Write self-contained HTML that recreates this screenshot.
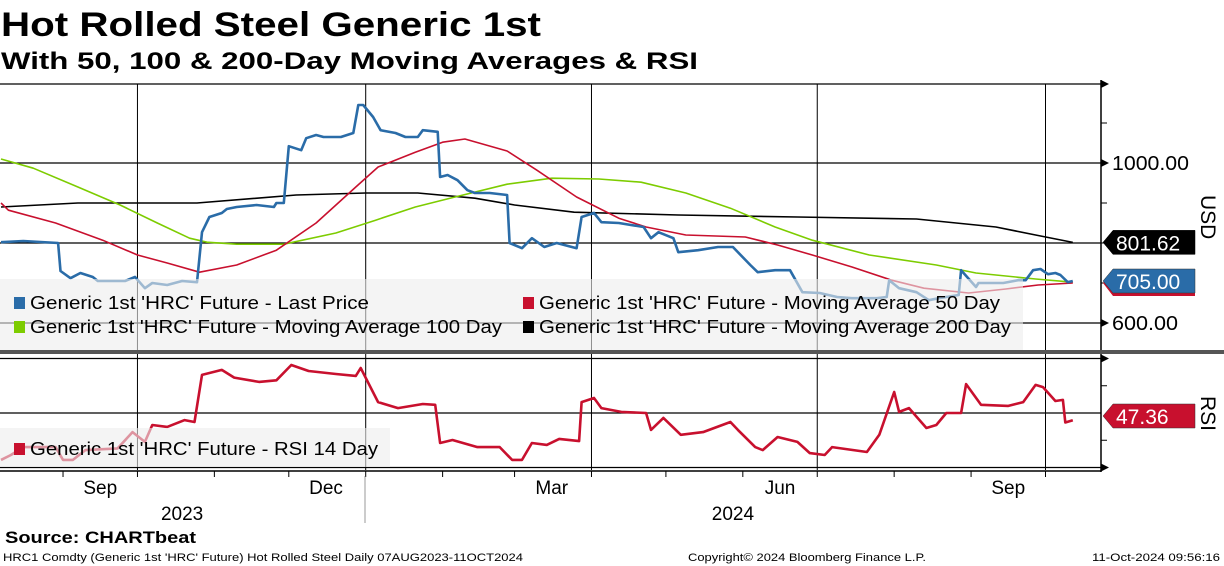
<!DOCTYPE html>
<html><head><meta charset="utf-8">
<style>
body{margin:0;background:#fff;}
svg{display:block;font-family:"Liberation Sans",sans-serif;}
</style></head>
<body>
<svg id="chart" width="1224" height="566" viewBox="0 0 1224 566" xmlns="http://www.w3.org/2000/svg">
<text x="1" y="36" font-size="34" font-weight="bold" textLength="540" lengthAdjust="spacingAndGlyphs">Hot Rolled Steel Generic 1st</text>
<text x="1" y="69" font-size="24.5" font-weight="bold" textLength="697" lengthAdjust="spacingAndGlyphs">With 50, 100 &amp; 200-Day Moving Averages &amp; RSI</text>
<g id="grid"></g>
<g id="series"></g>
<g id="legends"></g>
<g id="axes"></g>
<rect x="0" y="350" width="1224" height="4" fill="#555"/>
<text x="5" y="543" font-size="17" font-weight="bold" textLength="191" lengthAdjust="spacingAndGlyphs">Source: CHARTbeat</text>
<text x="3" y="561" font-size="11" textLength="520" lengthAdjust="spacingAndGlyphs">HRC1 Comdty (Generic 1st 'HRC' Future) Hot Rolled Steel  Daily 07AUG2023-11OCT2024</text>
<text x="688" y="561" font-size="11" textLength="238" lengthAdjust="spacingAndGlyphs">Copyright© 2024 Bloomberg Finance L.P.</text>
<text x="1092" y="561" font-size="11" textLength="128" lengthAdjust="spacingAndGlyphs">11-Oct-2024 09:56:16</text>
</svg>
<script>
// days since 07-Aug-2023
const priceDays=[0,9,23,24,28,32,37,39,50,54,58,61,67,73,79,81,84,89,91,95,103,110,111,114,116,121,123,127,130,137,142,144,146,150,153,159,163,168,170,176,177,180,184,188,191,197,204,205,210,214,219,224,232,234,239,242,249,259,262,265,271,273,281,289,295,302,305,312,318,323,330,337,343,353,357,358,362,369,374,378,386,387,393,394,404,410,413,416,419,422,425,427,430,432];
const priceVals=[802,805,800,730,712,725,715,705,705,715,687,700,695,705,702,827,865,875,885,890,895,890,900,900,1042,1032,1062,1070,1065,1065,1075,1145,1145,1115,1082,1075,1065,1065,1082,1078,965,970,957,932,925,925,920,800,787,812,790,800,787,865,875,852,850,840,812,827,812,777,782,790,790,745,727,732,732,677,675,665,662,662,665,707,687,677,657,662,670,732,690,700,700,707,707,732,735,722,725,720,702,705];
const ma50Days=[0,3,22,41,55,67,80,95,111,127,143,152,167,178,187,204,216,232,249,260,276,300,313,327,343,359,372,390,405,418,432];
const ma50Vals=[900,882,850,807,770,750,727,745,782,850,940,990,1027,1052,1060,1030,982,915,862,840,820,815,795,770,740,707,687,675,685,695,700];
const ma100Days=[0,13,31,48,63,76,83,95,114,135,151,167,183,204,222,241,258,276,294,312,327,350,377,393,417,432];
const ma100Vals=[1010,987,940,895,850,812,802,797,797,825,857,890,915,947,962,960,952,925,887,840,807,770,745,725,710,702];
const ma200Days=[0,31,79,119,147,168,191,207,231,273,321,369,401,417,432];
const ma200Vals=[890,900,900,920,925,925,912,895,877,870,865,860,840,820,801.62];
const rsiDays=[0,4,9,22,25,29,34,47,53,58,61,67,74,78,81,89,94,104,111,117,124,135,143,145,152,160,170,175,177,182,192,201,206,210,214,220,225,233,234,239,242,250,260,262,267,274,283,294,297,304,307,313,321,326,332,335,349,354,360,362,366,373,377,381,387,389,395,406,412,417,420,425,428,429,432];
const rsiVals=[32.8,34.6,37.5,37.5,32.8,32.8,36.4,37,43,39.4,45.6,44.9,47.4,46.7,64,65.8,63,61.4,62,67.6,65.4,64.3,63.6,66.5,54,51.8,53.3,53,39,40.1,37.5,37.5,32.8,32.8,39,38.3,40.5,39.7,54,55.5,51.8,50.4,50,43.8,48.2,42,43,46.7,43.8,37.5,36.4,41.2,39.4,35.3,34.6,37.5,35.7,42,57.7,50.4,51.8,44.5,45.6,50,50,60.6,53,52.6,54,60.3,59.5,54.4,54.8,46.5,47.36];
const priceTicks=[600,1000];
const priceMinor=[700,800,900,1100];
const rsiTicks=[30,50,70];
const monthTickDays=[25,55,86,116,147,178,207,238,268,299,329,360,391,421];
const gridDays=[55,147,238,329,421];
const monthLabels=[{d:40,t:"Sep"},{d:131,t:"Dec"},{d:222,t:"Mar"},{d:314,t:"Jun"},{d:406,t:"Sep"}];
const yearLabels=[{d:73,t:"2023"},{d:295,t:"2024"}];

const NS="http://www.w3.org/2000/svg";
const X=d=>1+d*2.481;
const Y=v=>163+(1000-v)*0.4;
const R=r=>413-(r-50)*2.725;
const AX=1101;
function el(tag,attrs,parent){const e=document.createElementNS(NS,tag);for(const k in attrs)e.setAttribute(k,attrs[k]);parent.appendChild(e);return e;}
const grid=document.getElementById('grid'),series=document.getElementById('series'),legends=document.getElementById('legends'),axes=document.getElementById('axes');

let g=el('line',{x1:0,x2:AX,y1:84,y2:84,stroke:'#000','stroke-width':1.2},grid);


[800].concat(priceTicks).forEach(v=>{const l=el('line',{x1:0,x2:AX,y1:Y(v),y2:Y(v),stroke:'#000','stroke-width':1.2},grid);

});
rsiTicks.forEach(v=>{const l=el('line',{x1:0,x2:AX,y1:R(v),y2:R(v),stroke:'#000','stroke-width':1.2},grid);

});
gridDays.forEach(d=>{const l=el('line',{x1:X(d),x2:X(d),y1:84,y2:470,stroke:'#000','stroke-width':1},grid);

});

function path(days,vals,f){return days.map((d,i)=>(i?'L':'M')+X(d).toFixed(1)+' '+f(vals[i]).toFixed(1)).join(' ');}
const defs=[[ma200Days,ma200Vals,'#000','ma200-line',Y],[ma100Days,ma100Vals,'#7dcc00','ma100-line',Y],[ma50Days,ma50Vals,'#c8102e','ma50-line',Y],[priceDays,priceVals,'#2a6ca8','last-price-line',Y],[rsiDays,rsiVals,'#c8102e','rsi-line',R]];
defs.forEach(s=>{const p=el('path',{d:path(s[0],s[1],s[4]),fill:'none',stroke:s[2],'stroke-width':s[3]==='last-price-line'||s[3]==='rsi-line'?2.6:1.6,'stroke-linejoin':'round'},series);

});

const lb=el('rect',{x:0,y:279,width:1023,height:71,fill:'#ececec','fill-opacity':0.6},legends);


const entries=[[14,303,'#2a6ca8',"Generic 1st 'HRC' Future - Last Price",339],[523,303,'#c8102e',"Generic 1st 'HRC' Future - Moving Average 50 Day",461],[14,327,'#7dcc00',"Generic 1st 'HRC' Future - Moving Average 100 Day",472],[523,327,'#000',"Generic 1st 'HRC' Future - Moving Average 200 Day",472]];
entries.forEach(e=>{const gr=el('g',{},legends);


el('rect',{x:e[0],y:e[1]-6,width:11,height:12,fill:e[2]},gr);
const t=el('text',{x:e[0]+16,y:e[1]+6,'font-size':18.5,textLength:e[4],lengthAdjust:'spacingAndGlyphs'},gr);t.textContent=e[3];});
const rb=el('rect',{x:0,y:428,width:390,height:39,fill:'#ececec','fill-opacity':0.6},legends);


const rg=el('g',{},legends);


el('rect',{x:14,y:443,width:11,height:12,fill:'#c8102e'},rg);
const rt=el('text',{x:30,y:455,'font-size':18.5,textLength:348,lengthAdjust:'spacingAndGlyphs'},rg);rt.textContent="Generic 1st 'HRC' Future - RSI 14 Day";

el('line',{x1:AX,x2:AX,y1:80,y2:472,stroke:'#000','stroke-width':1.5},axes);
el('line',{x1:0,x2:AX,y1:471,y2:471,stroke:'#000','stroke-width':1.5},axes);
[84].concat(priceTicks.map(Y)).forEach(y=>el('path',{d:`M${AX} ${y-4}L${AX+8} ${y}L${AX} ${y+4}Z`,fill:'#000'},axes));
[R(30),R(70)].forEach(y=>el('path',{d:`M${AX} ${y-4}L${AX+8} ${y}L${AX} ${y+4}Z`,fill:'#000'},axes));
priceMinor.forEach(v=>el('line',{x1:AX,x2:AX+6,y1:Y(v),y2:Y(v),stroke:'#000'},axes));
[40,60].forEach(v=>el('line',{x1:AX,x2:AX+6,y1:R(v),y2:R(v),stroke:'#000'},axes));
priceTicks.forEach(v=>{const s=v.toFixed(2);const t=el('text',{x:1112,y:Y(v)+7,'font-size':20,textLength:s.length*11,lengthAdjust:'spacingAndGlyphs'},axes);


t.textContent=s;});
monthTickDays.forEach(d=>el('line',{x1:X(d),x2:X(d),y1:471,y2:477,stroke:'#000'},axes));
monthLabels.forEach(m=>{const t=el('text',{x:X(m.d),y:494,'font-size':19,'text-anchor':'middle'},axes);


t.textContent=m.t;});
yearLabels.forEach(m=>{const t=el('text',{x:X(m.d),y:520,'font-size':19,'text-anchor':'middle'},axes);


t.textContent=m.t;});
el('line',{x1:365,x2:365,y1:476,y2:523,stroke:'#999'},axes);

function tag(y,val,fill,name,under){
 if(under) el('path',{d:`M1103 ${y+2}L1113 ${y-10}H1195V${y+15}H1113Z`,fill:under},axes);
 const p=el('path',{d:`M1103 ${y}L1113 ${y-12}H1195V${y+12}H1113Z`,fill:fill,stroke:fill==='#000'?'#000':'#333','stroke-width':0.5},axes);
 
 
 const t=el('text',{x:1116,y:y+8,'font-size':21,fill:'#fff'},axes);t.textContent=val;
}
tag(Y(ma200Vals[ma200Vals.length-1]),ma200Vals[ma200Vals.length-1].toFixed(2),'#000','ma200-value-tag');
tag(281,priceVals[priceVals.length-1].toFixed(2),'#2a6ca8','price-value-tag','#c8102e');
tag(416,rsiVals[rsiVals.length-1].toFixed(2),'#c8102e','rsi-value-tag');
const u=el('text',{x:0,y:0,'font-size':21,transform:'translate(1201,195) rotate(90)'},axes);


u.textContent='USD';
const r=el('text',{x:0,y:0,'font-size':21,transform:'translate(1201,396) rotate(90)'},axes);


r.textContent='RSI';
</script>
</body></html>
